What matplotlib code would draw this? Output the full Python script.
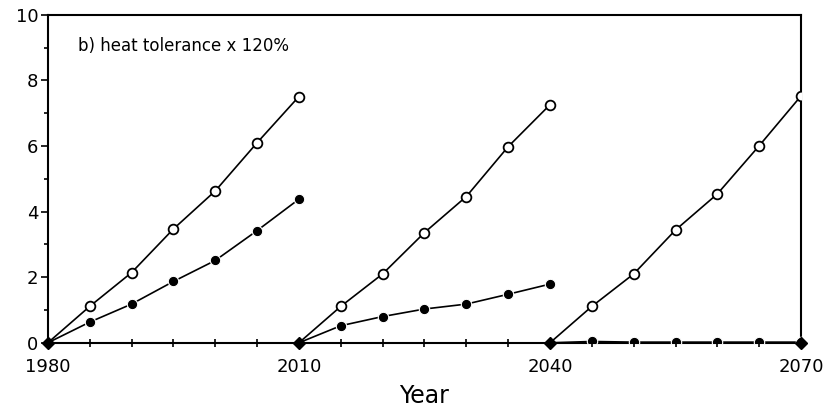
import numpy as np
import matplotlib.pyplot as plt

plt.rcParams['font.family'] = ['DejaVu Sans']

# three 30-year runs, 5-year steps
starts = [1980, 2010, 2040]
years_offset = [0, 5, 10, 15, 20, 25, 30]

open_vals = [
    [0, 1.11, 2.14, 3.47, 4.63, 6.10, 7.51],
    [0, 1.11, 2.10, 3.36, 4.46, 5.98, 7.26],
    [0, 1.11, 2.10, 3.44, 4.54, 6.01, 7.53],
]
filled_vals = [
    [0, 0.63, 1.18, 1.87, 2.51, 3.42, 4.38],
    [0, 0.52, 0.80, 1.03, 1.18, 1.48, 1.79],
    [0, 0.04, 0.02, 0.02, 0.02, 0.02, 0.02],
]
start_points = [1980, 2010, 2040, 2070]
xtick_labels = ["1980", "2010", "2040", "2070"]

fig = plt.figure(figsize=(8.25, 4.13), dpi=100)
ax = fig.add_axes([0.058, 0.17, 0.913, 0.794])

for s, ov, fv in zip(starts, open_vals, filled_vals):
    x = [s + d for d in years_offset]
    ax.plot(x, fv, color="black", lw=1.2, zorder=2)
    ax.plot(x[1:], fv[1:], ls="none", marker="o", ms=7.5, mfc="black",
            mec="white", mew=0.8, zorder=3)
    ax.plot(x, ov, color="black", lw=1.2, zorder=3)
    ax.plot(x[1:], ov[1:], ls="none", marker="o", ms=7, mfc="white",
            mec="black", mew=1.3, zorder=4)

ax.plot(start_points, [0] * len(start_points), ls="none", marker="D", ms=6.5,
        color="black", clip_on=False, zorder=5)

ax.set_xlim(1980, 2070)
ax.set_ylim(0, 10)
ax.set_xticks(start_points)
ax.set_xticklabels(xtick_labels)
ax.set_xticks(np.arange(1980, 2071, 5), minor=True)
ax.set_yticks(np.arange(0, 11, 2))
ax.set_yticks(np.arange(1, 10, 2), minor=True)

ax.tick_params(axis="y", which="both", direction="out", labelsize=13, width=1.2, pad=2)
ax.tick_params(axis="y", which="major", length=5)
ax.tick_params(axis="y", which="minor", length=3)
ax.tick_params(axis="x", which="both", direction="inout", length=6, width=1.2,
               labelsize=13, pad=8)

for sp in ax.spines.values():
    sp.set_linewidth(1.5)

ax.text(0.04, 0.905, "b) heat tolerance x 120%", transform=ax.transAxes,
        fontsize=12, va="center", ha="left")
ax.set_xlabel("Year", fontsize=17, labelpad=6)

fig.savefig("out.png", dpi=100)
